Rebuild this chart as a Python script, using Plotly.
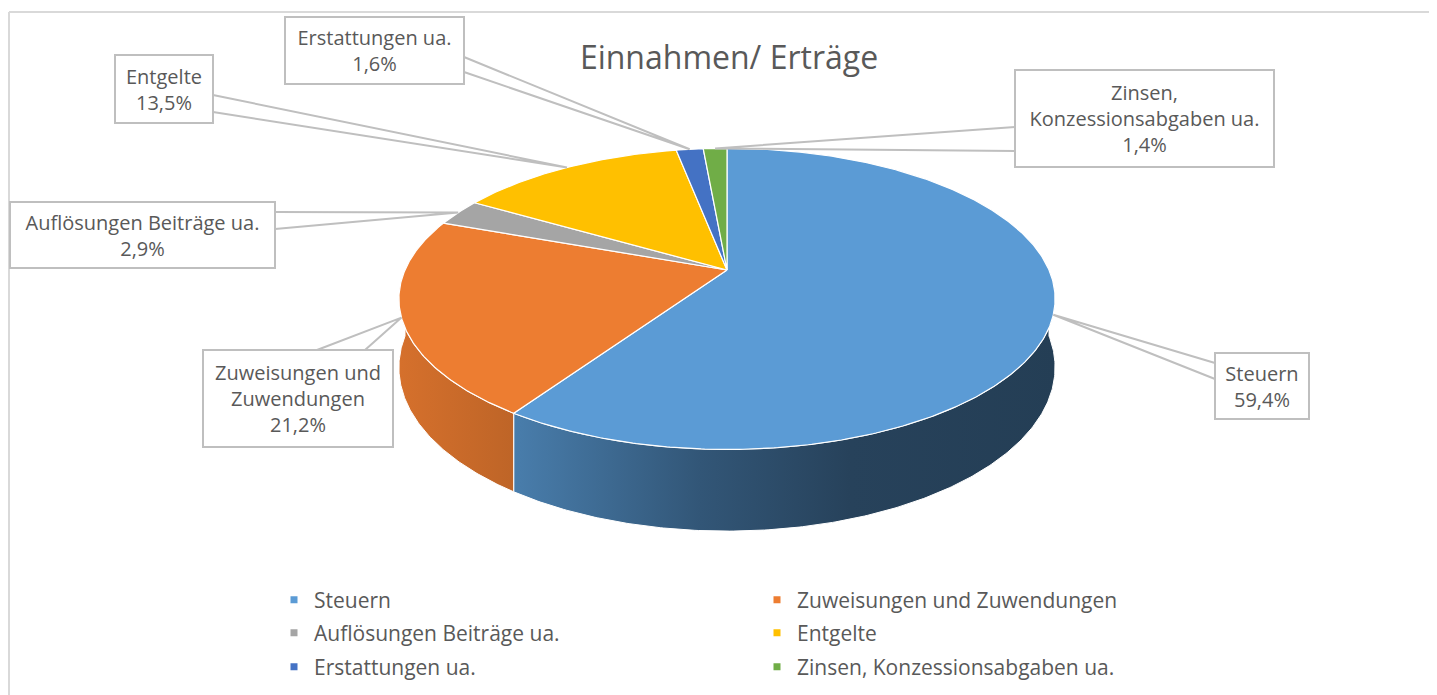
import numpy as np
import plotly.graph_objects as go

# ---------------- data ----------------
categories = ["Steuern", "Zuweisungen und Zuwendungen", "Auflösungen Beiträge ua.",
              "Entgelte", "Erstattungen ua.", "Zinsen, Konzessionsabgaben ua."]
shares = [59.4, 21.2, 2.9, 13.5, 1.6, 1.4]
label_names = ["Steuern", "Zuweisungen und<br>Zuwendungen", "Auflösungen Beiträge ua.",
               "Entgelte", "Erstattungen ua.", "Zinsen,<br>Konzessionsabgaben ua."]
title_text = "Einnahmen/ Erträge"

# ---------------- style ----------------
colors = ["#5B9BD5", "#ED7D31", "#A5A5A5", "#FFC000", "#4472C4", "#70AD47"]
W, Hh = 1437, 695
OFF = 8  # page body margin; axis ranges are shifted so coordinates match page pixels
CX, CY, RX, RY, DIST, DEPTH = 727, 270, 322, 145, 5.21, 66
FONT = "'Open Sans', Lato, sans-serif"
TXT = "#595959"
BORDER = "#BFBFBF"

def proj(theta_deg, drop=0.0):
    t = np.radians(theta_deg)
    u, v = np.sin(t), -np.cos(t)
    s = DIST / (DIST - v)
    return CX + RX * u * s, CY + RY * v * s + drop * s

def hex_rgb(h):
    h = h.lstrip('#')
    return [int(h[i:i + 2], 16) for i in (0, 2, 4)]

shade_x = [400, 520, 700, 850, 1060]
shade_f = [0.9, 0.8, 0.56, 0.43, 0.40]

def side_scale(col):
    r, g, b = hex_rgb(col)
    out = []
    for xx, ff in zip(shade_x, shade_f):
        pos = (xx - shade_x[0]) / (shade_x[-1] - shade_x[0])
        out.append([pos, f"rgb({int(r*ff)},{int(g*ff)},{int(b*ff)})"])
    return out

total = sum(shares)
bounds = np.concatenate([[0], np.cumsum(shares)]) / total * 360.0

fig = go.Figure()

# side walls (front half only)
for i, col in enumerate(colors):
    a0, a1 = bounds[i], bounds[i + 1]
    lo, hi = max(a0, 90.0), min(a1, 270.0)
    if lo >= hi:
        continue
    th = np.linspace(lo, hi, max(int((hi - lo) * 2), 4))
    xt, yt = proj(th)
    xb, yb = proj(th[::-1], DEPTH)
    xs = np.concatenate([xt, xb, xt[:1]])
    ys = np.concatenate([yt, yb, yt[:1]])
    fig.add_trace(go.Scatter(
        x=xs, y=ys, mode="lines", fill="toself",
        fillcolor=col,
        fillgradient=dict(type="horizontal", colorscale=side_scale(col),
                          start=shade_x[0], stop=shade_x[-1]),
        line=dict(color="white", width=1), hoverinfo="skip", showlegend=False))

# top faces
for i, col in enumerate(colors):
    a0, a1 = bounds[i], bounds[i + 1]
    th = np.linspace(a0, a1, max(int((a1 - a0) * 2), 4))
    xa, ya = proj(th)
    xs = np.concatenate([[CX], xa, [CX]])
    ys = np.concatenate([[CY], ya, [CY]])
    fig.add_trace(go.Scatter(
        x=xs, y=ys, mode="lines", fill="toself", fillcolor=col,
        line=dict(color="white", width=1.2), hoverinfo="skip", showlegend=False))

# legend entries (six single-item legends laid out in two columns)
leg_cols = [315, 798]
leg_rows = [600, 633, 667]
layout_legends = {}
for i, (cat, col) in enumerate(zip(categories, colors)):
    lid = "legend" if i == 0 else f"legend{i + 1}"
    fig.add_trace(go.Scatter(
        x=[None], y=[None], mode="markers", name=cat,
        marker=dict(symbol="square", size=7, color=col),
        legend=lid, hoverinfo="skip"))
    tx = leg_cols[i % 2]
    ty = leg_rows[i // 2]
    layout_legends[lid] = dict(
        x=(tx - 41 - OFF) / W, y=1 - (ty - OFF) / Hh, xanchor="left", yanchor="middle",
        bgcolor="rgba(0,0,0,0)", borderwidth=0,
        font=dict(family=FONT, size=21, color=TXT), itemwidth=30)

# data label boxes: (center x, center y, width, height, wedge base points)
boxes = [
    (1262, 386, 94, 66, [(1215, 363), (1215, 379)]),
    (298, 398, 190, 97, [(317, 350), (365, 350)]),
    (142, 235, 265, 66, [(275, 212), (275, 229)]),
    (164, 89, 98, 68, [(213, 95), (213, 112)]),
    (374, 50, 179, 67, [(464, 57), (464, 72)]),
    (1144, 118, 259, 97, [(1015, 127), (1015, 151)]),
]

annotations = []
shapes = []
for i, (bx, by, bw, bh, base) in enumerate(boxes):
    pct = f"{shares[i]:.1f}".replace(".", ",") + "%"
    mid = (bounds[i] + bounds[i + 1]) / 2
    px, py = proj(mid)
    shapes.append(dict(
        type="path", xref="x", yref="y",
        path=f"M {base[0][0]},{base[0][1]} L {px:.1f},{py:.1f} L {base[1][0]},{base[1][1]}",
        line=dict(color=BORDER, width=2)))
    annotations.append(dict(
        x=bx, y=by, xref="x", yref="y", text=f"{label_names[i]}<br>{pct}",
        showarrow=False, xanchor="center", yanchor="middle",
        width=bw - 4, height=bh - 4, align="center", valign="middle",
        bgcolor="white", bordercolor=BORDER, borderwidth=2, borderpad=1,
        font=dict(family=FONT, size=20, color=TXT)))

# chart frame
shapes.append(dict(type="line", xref="x", yref="y", x0=9, y0=12, x1=W + OFF, y1=12,
                   line=dict(color="#D9D9D9", width=2), layer="below"))
shapes.append(dict(type="line", xref="x", yref="y", x0=9, y0=12, x1=9, y1=Hh + OFF,
                   line=dict(color="#D9D9D9", width=2), layer="below"))

fig.update_layout(
    width=W, height=Hh,
    margin=dict(l=0, r=0, t=0, b=0),
    paper_bgcolor="white", plot_bgcolor="white",
    title=dict(text=title_text, x=(729 - OFF) / W, xanchor="center",
               y=1 - (58 - OFF) / Hh, yanchor="middle", yref="container",
               font=dict(family=FONT, size=32, color=TXT)),
    xaxis=dict(range=[OFF, W + OFF], visible=False, fixedrange=True),
    yaxis=dict(range=[Hh + OFF, OFF], visible=False, fixedrange=True),
    annotations=annotations, shapes=shapes,
    showlegend=True,
    **layout_legends,
)

fig.write_html("out.html", config={"displayModeBar": False})
